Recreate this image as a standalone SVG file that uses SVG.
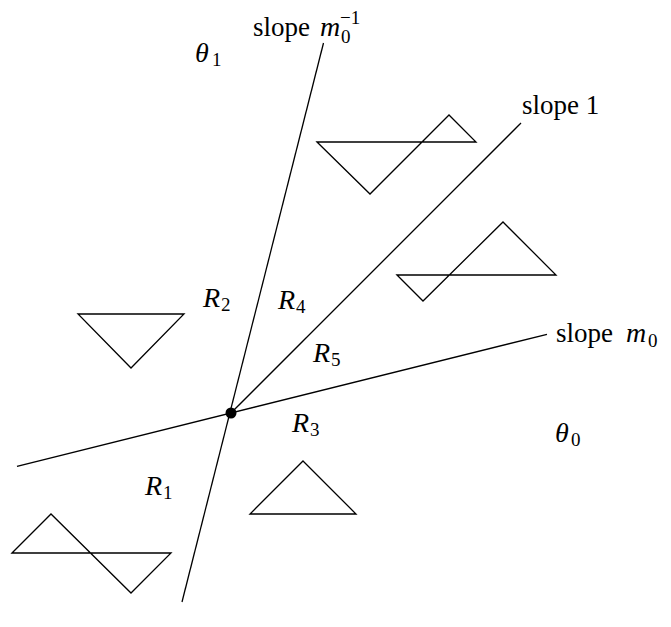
<svg xmlns="http://www.w3.org/2000/svg" width="671" height="627" viewBox="0 0 671 627">
<style>
.ln{stroke:#000;stroke-width:1.3;fill:none}
.tri{stroke:#000;stroke-width:1.3;fill:none;stroke-linejoin:miter}
text{font-family:"Liberation Serif","Times New Roman",serif;fill:#000}
.t{font-size:27px}
.i{font-size:28px;font-style:italic}
.s{font-size:19px}
</style>
<rect width="671" height="627" fill="#fff"/>
<g id="connectors">
<line class="ln" x1="323.5" y1="43" x2="182" y2="602"/>
<line class="ln" x1="17" y1="466.3" x2="547" y2="334.3"/>
<line class="ln" x1="231" y1="413" x2="521" y2="123"/>
</g>
<g id="origin"><circle cx="231" cy="413" r="5.5" fill="#000"/></g>
<g id="tri1"><path class="tri" d="M317,142 L370,194 L449,115 L476,142 Z"/></g>
<g id="tri2"><path class="tri" d="M397,275 L423,301 L503,222 L556,275 Z"/></g>
<g id="tri3"><path class="tri" d="M78,314 L184,314 L131,368 Z"/></g>
<g id="tri4"><path class="tri" d="M303,461 L356,514 L250,514 Z"/></g>
<g id="tri5"><path class="tri" d="M12,553 L51,514 L131,593 L171,553 Z"/></g>
<g id="labels">
<text class="t" x="253" y="36">slope</text>
<text class="i" x="320" y="36">m</text>
<text class="s" x="341" y="43">0</text>
<text class="s" x="340" y="24">−1</text>
<text class="i" x="195" y="62">θ</text>
<text class="s" x="212" y="66">1</text>
<text class="t" x="522" y="114">slope 1</text>
<text class="t" x="556" y="342">slope</text>
<text class="i" x="626" y="342">m</text>
<text class="s" x="648" y="347">0</text>
<text class="i" x="555" y="442">θ</text>
<text class="s" x="571" y="446">0</text>
<text class="i" x="203" y="307">R</text>
<text class="s" x="221" y="311">2</text>
<text class="i" x="278" y="309">R</text>
<text class="s" x="296" y="313">4</text>
<text class="i" x="313" y="362">R</text>
<text class="s" x="331" y="366">5</text>
<text class="i" x="292" y="432">R</text>
<text class="s" x="310" y="436">3</text>
<text class="i" x="145" y="495">R</text>
<text class="s" x="163" y="499">1</text>
</g>
</svg>
